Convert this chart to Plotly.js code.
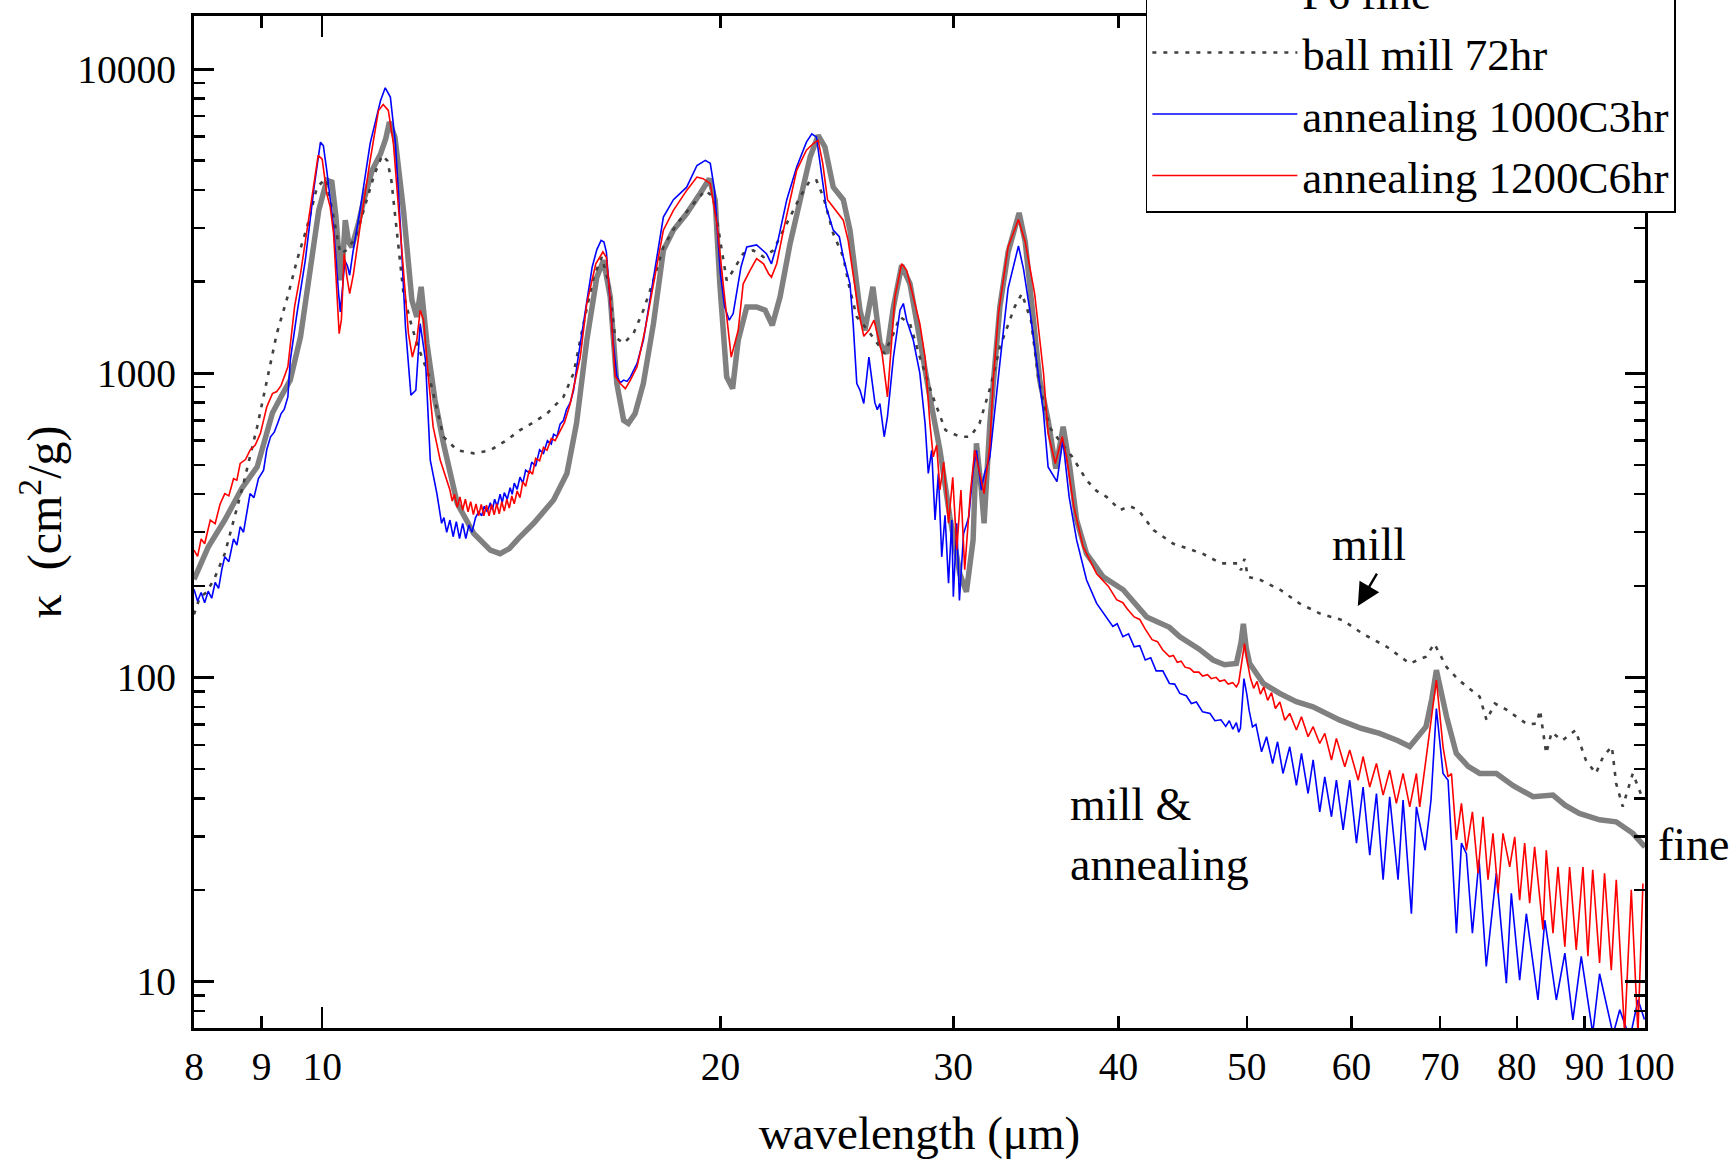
<!DOCTYPE html>
<html>
<head>
<meta charset="utf-8">
<script src="https://cdn.plot.ly/plotly-3.0.1.min.js"></script>
<style>html,body{margin:0;padding:0;background:#fff;}#chart{width:1735px;height:1162px;}</style>
</head>
<body>
<div id="chart"></div>
<script>
// ---- data (wavelength in micron, kappa in cm^2/g) ----
const fineWl = [8.0,8.2,8.44,8.7,8.93,9.05,9.17,9.3,9.46,9.63,9.79,9.94,10.08,10.17,10.24,10.29,10.33,10.38,10.41,10.47,10.53,10.65,10.75,10.91,11.07,11.17,11.24,11.35,11.45,11.52,11.62,11.69,11.79,11.88,12.0,12.17,12.35,12.65,13.02,13.4,13.63,13.85,14.07,14.45,14.96,15.31,15.57,15.85,16.13,16.32,16.51,16.7,16.9,17.04,17.24,17.49,17.8,18.11,18.43,18.86,19.3,19.62,19.82,19.98,20.22,20.43,20.63,20.94,21.3,21.62,21.89,22.19,22.58,22.97,23.38,23.71,23.99,24.34,24.77,25.06,25.5,25.72,26.08,26.41,26.72,27.03,27.42,27.82,28.3,28.8,29.31,29.82,30.34,30.69,31.05,31.23,31.5,31.65,31.97,32.53,33.0,33.64,34.0,34.28,34.87,35.38,35.86,36.32,36.74,37.18,37.83,38.94,40.32,42.0,43.7,44.5,46.0,47.15,48.1,49.1,49.5,49.7,49.95,50.25,51.45,52.96,54.5,56.1,57.5,58.8,61.0,63.0,65.0,66.4,68.3,69.0,69.55,70.2,70.8,72.0,73.5,75.0,77.2,79.5,82.3,85.2,87.0,89.2,92.4,95.1,97.9,100];
const fineK = [210,268,329,420,492,600,740,830,950,1318,2124,3433,4305,4250,3300,2350,2020,2600,3185,2700,2600,3100,3700,4645,5270,5900,6695,5975,4500,3433,2300,1738,1531,1923,1254,815,588,373,297,262,255,265,286,321,383,468,684,1283,2070,2350,1783,925,700,684,737,925,1455,2535,2954,3350,3893,4360,3700,1968,972,890,1283,1652,1652,1611,1438,1783,2668,3720,5140,6050,5545,4090,3720,2954,1611,1384,1923,1254,1161,1652,2264,1968,1254,836,558,337,219,191,283,588,413,321,684,1652,2500,3365,2700,1875,949,700,486,667,492,329,255,214,194,158,146,136,124,114,110,111,130,150,125,111,95.5,88.5,83.2,80,76,72.3,68,65.4,62,59.2,68.8,85,105.6,88,74.1,56.2,51,48.3,48.3,44,40.5,41,38,35.7,34,33.5,30.7,27.7];

const millWl = [8.0,8.08,8.17,8.28,8.44,8.57,8.72,8.93,9.08,9.24,9.43,9.57,9.74,9.91,10.06,10.2,10.32,10.45,10.6,10.8,10.95,11.1,11.2,11.28,11.32,11.39,11.52,11.65,11.79,12.05,12.35,12.65,13.02,13.4,13.79,14.11,14.45,14.79,15.22,15.49,15.76,16.04,16.27,16.47,16.65,16.9,17.19,17.49,17.8,18.11,18.54,19.08,19.48,19.75,20.0,20.22,20.45,20.81,21.18,21.56,21.93,22.45,22.97,23.38,23.64,23.93,24.34,24.77,25.06,25.36,25.85,26.28,26.6,27.03,27.34,27.82,28.3,28.95,29.59,30.34,30.9,31.4,32.0,32.54,33.38,33.8,34.34,34.8,35.45,36.2,36.9,37.83,38.5,39.17,40.1,40.8,41.4,42.5,44.0,46.3,47.8,49.3,49.5,49.8,50.1,51.2,53.0,54.8,56.8,59.1,61.2,63.8,66.4,68.3,69.3,70.8,72.3,75.0,75.9,77.0,78.7,80.0,81.5,82.8,83.3,84.2,85.0,86.6,88.6,90.2,91.8,93.0,94.4,95.1,96.2,97.9,99.7];
const millK = [161,183,190,209,255,329,434,667,949,1349,1828,2350,3026,4090,4360,3260,2472,2550,2800,3700,4500,5200,5000,4300,3720,3026,1828,1500,1254,972,618,558,545,558,603,650,690,737,836,1000,1455,2070,2410,1968,1315,1254,1349,1611,2018,2600,3100,3607,3990,3795,2668,2018,2178,2472,2535,2410,2535,3100,3795,4305,4305,3795,2880,2410,1875,1531,1384,1254,1161,1349,1531,1455,1130,836,650,618,618,684,900,1222,1652,1828,1494,949,667,588,531,445,410,392,355,365,355,305,275,255,237,237,225,245,214,209,194,175,162,154,139,126,111,117,129,108,98,86.3,72.3,82,78,74,70,70.5,78,56.2,66,62,67,53.5,48.3,55,59.2,44.8,37.6,48.3,39.5];

const a1000Wl = [8.0,8.05,8.1,8.15,8.2,8.25,8.3,8.35,8.4,8.44,8.5,8.57,8.62,8.67,8.72,8.77,8.82,8.88,8.95,9.03,9.08,9.14,9.2,9.26,9.31,9.36,9.42,9.46,9.57,9.71,9.86,9.97,10.02,10.08,10.2,10.29,10.32,10.36,10.4,10.45,10.49,10.55,10.68,10.87,11.07,11.16,11.26,11.36,11.46,11.56,11.67,11.77,11.86,11.97,12.07,12.21,12.31,12.36,12.42,12.49,12.56,12.63,12.7,12.77,12.84,12.91,12.98,13.06,13.13,13.2,13.26,13.33,13.4,13.45,13.5,13.56,13.63,13.68,13.73,13.8,13.87,13.92,13.97,14.04,14.11,14.18,14.25,14.34,14.4,14.5,14.6,14.7,14.8,14.9,14.96,15.05,15.13,15.22,15.3,15.4,15.49,15.6,15.76,16.0,16.13,16.25,16.33,16.4,16.51,16.6,16.7,16.8,16.9,17.0,17.1,17.3,17.49,17.8,18.11,18.43,18.86,19.2,19.48,19.65,19.8,20.0,20.15,20.31,20.45,20.73,20.94,21.3,21.67,21.86,22.11,22.45,22.84,23.23,23.45,23.64,23.84,24.04,24.34,24.6,24.77,25.06,25.2,25.36,25.5,25.67,25.9,26.05,26.17,26.28,26.4,26.6,26.75,27.03,27.34,27.5,27.66,27.98,28.3,28.56,28.72,28.89,29.06,29.23,29.4,29.57,29.75,29.92,30.0,30.18,30.32,30.54,30.82,31.05,31.23,31.5,31.67,31.8,31.97,32.53,33.0,33.6,33.9,34.28,34.56,35.1,35.38,35.93,36.3,36.7,37.18,37.83,38.5,39.17,39.6,39.9,40.3,40.7,41.1,41.5,41.9,42.3,42.7,43.2,43.7,44.1,44.5,45.0,45.4,45.8,46.3,46.9,47.3,47.8,48.2,48.5,48.8,49.1,49.3,49.45,49.75,50.0,50.2,50.5,50.8,51.3,51.75,52.3,52.75,53.25,53.88,54.51,54.99,55.63,56.12,56.77,57.27,57.94,58.44,59.13,59.81,60.52,61.22,61.93,62.66,63.39,64.12,65.06,65.63,66.59,67.17,68.2,68.9,69.55,70.36,70.98,72.02,72.65,73.28,74.05,74.91,75.86,77.2,78.56,79.24,80.4,81.34,83.0,84.0,85.7,86.98,88.2,89.5,91.3,92.4,94.6,95.7,97.4,98.8,99.9];
const a1000K = [195,178,190,176,192,182,205,196,228,249,240,285,272,313,300,345,402,390,450,480,560,618,640,690,737,760,836,1104,1571,2350,4090,5750,5600,4645,3026,1828,1590,1900,2350,2250,2100,2500,3433,5690,7890,8680,8090,5690,3026,1419,847,879,1455,1104,518,402,321,335,300,329,290,325,286,321,286,317,300,335,350,340,365,350,375,355,385,365,400,375,405,385,420,400,435,415,455,435,480,470,510,495,560,545,600,585,630,620,680,700,760,800,879,1100,1455,2236,2550,2735,2700,2500,1695,1250,979,930,949,940,972,1077,1283,2070,3260,3720,4090,4820,5010,4900,3990,2124,1650,1494,1571,2236,2600,2640,2472,2290,2735,3720,4765,5750,6125,5975,4530,3525,2954,2810,2410,1968,1455,925,880,795,1130,949,800,759,795,618,720,1130,1611,1695,1494,1283,1000,684,468,558,329,468,249,341,204,329,184,321,179,297,337,480,558,413,468,492,531,1077,1900,2620,2200,1600,1222,737,492,440,603,392,283,209,175,158,147,150,136,139,126,127,114,116,105,105,95.5,95,88.5,87,82,83,77,76,72,72.5,69,72,67.5,71,66,68,99,88,78,68.7,70,56.9,63.8,52.1,61.4,48.3,59.1,44.1,56.2,41.5,53.5,36.1,47.1,34.8,45.9,31.5,45.9,28.5,43.6,26,41.5,21.6,40.5,21.6,39.5,16.7,37.5,27,39.5,79,48.3,45.9,14.4,28.5,26.3,14.4,25.1,11.2,22.7,9.87,19.5,10.1,16.7,8.69,15.9,8.69,12.4,7.47,12.1,6.76,10.6,6.7,8.07,6.5,8.7,7.5];

const a1200Wl = [8.0,8.05,8.1,8.15,8.23,8.3,8.37,8.44,8.5,8.57,8.62,8.67,8.75,8.82,8.9,8.98,9.08,9.17,9.24,9.31,9.42,9.53,9.63,9.77,9.93,10.0,10.08,10.14,10.2,10.26,10.3,10.34,10.39,10.44,10.49,10.56,10.68,10.87,11.03,11.12,11.22,11.32,11.42,11.52,11.62,11.7,11.79,11.86,11.93,12.03,12.13,12.28,12.42,12.49,12.54,12.59,12.65,12.71,12.77,12.83,12.89,12.95,13.01,13.07,13.13,13.19,13.25,13.31,13.37,13.43,13.49,13.55,13.61,13.67,13.73,13.79,13.85,13.91,13.97,14.04,14.11,14.18,14.25,14.34,14.42,14.5,14.6,14.7,14.79,14.9,15.0,15.13,15.25,15.4,15.67,15.85,16.1,16.3,16.4,16.5,16.65,16.8,16.95,17.1,17.3,17.54,17.8,18.11,18.43,18.86,19.2,19.41,19.65,19.88,20.12,20.31,20.38,20.63,20.81,21.06,21.3,21.56,21.75,21.86,22.06,22.32,22.58,22.84,23.23,23.51,23.71,23.9,24.1,24.34,24.55,24.77,24.98,25.2,25.43,25.67,25.9,26.13,26.35,26.5,26.75,26.9,27.1,27.42,27.66,27.98,28.3,28.56,28.8,28.97,29.14,29.31,29.5,29.75,29.97,30.18,30.4,30.6,30.9,31.14,31.4,31.65,31.97,32.16,32.45,33.0,33.6,34.0,34.56,35.1,35.38,35.83,36.26,36.53,37.0,37.6,38.5,39.3,39.86,40.3,40.6,41.1,41.5,41.9,42.4,42.8,43.2,43.7,44.0,44.3,44.6,44.9,45.3,45.6,46.0,46.3,46.7,47.0,47.4,47.7,48.1,48.4,48.8,49.1,49.3,49.5,49.8,50.0,50.3,50.6,50.9,51.2,51.5,51.85,52.2,52.55,52.96,53.42,53.88,54.51,54.99,55.63,56.12,56.77,57.27,57.94,58.44,59.3,59.81,60.7,61.22,61.93,62.66,63.39,64.12,64.87,65.63,66.4,67.17,67.56,68.16,68.74,69.55,70.36,70.98,71.4,72.02,72.65,73.28,74.05,74.78,75.43,76.09,76.75,77.43,78.1,79.02,79.71,80.4,81.1,81.81,82.52,83.73,84.21,85.2,85.94,86.98,87.7,88.72,89.76,90.54,91.3,92.4,93.2,94.3,95.12,96.51,97.64,98.78,99.64];
const a1200K = [262,250,285,275,329,320,370,402,395,450,445,505,520,558,580,634,774,857,870,912,1050,1652,2124,3185,5200,5060,3893,3525,2880,1828,1349,1500,2472,2070,1828,2124,3026,5010,7310,7650,7310,5690,3433,2124,1349,1130,1283,1611,1494,972,667,518,445,413,380,400,362,392,355,385,350,378,343,372,340,370,340,368,340,370,342,372,345,378,352,385,360,395,372,410,390,440,425,480,465,525,515,570,558,610,600,650,690,795,1130,1695,2290,2505,2400,1800,979,925,890,949,1050,1384,1968,2954,3433,3990,4415,4360,4200,3100,1875,1254,1130,1384,1968,2178,2380,2290,2124,2070,2290,2954,3720,4645,5410,5690,5825,4900,3720,3525,3350,3185,2735,2070,1611,1322,1384,1494,1283,1161,836,1190,1783,2290,2180,1783,1455,1130,684,531,580,413,510,321,455,263,413,226,402,558,468,402,580,949,1571,2600,3200,2700,1828,1000,635,505,618,531,364,269,219,199,180,176,168,158,155,144,133,131,123,117,118,112,113,108,107,104,104,101,102,99,100,97,98,95,96,93,96,108,129,115,100,92,97,88,93,84,89,79,83,72.3,76.1,67.1,74.2,63.8,68.8,60.6,65.4,53.5,63,50.8,57.7,45.9,54.9,43.6,52.1,41,49.5,38.5,48.3,37.5,48.3,37.5,50.8,65.4,97.9,59.1,47.1,48.3,29.2,38.5,27,36.1,22.7,34.8,21.6,30.7,19.5,30.7,23.8,29.9,18.5,28.5,18.1,27.7,14.8,27,14.4,23.8,13,23.8,12.7,23.8,12.1,23.3,11.5,22.7,10.9,21.6,6.76,20,6.76,21];

const seriesNames = ['F6 fine', 'ball mill 72hr', 'annealing 1000C3hr', 'annealing 1200C6hr'];
const xTickVals = [8, 9, 10, 20, 30, 40, 50, 60, 70, 80, 90, 100];
const xTickText = ['8', '9', '10', '20', '30', '40', '50', '60', '70', '80', '90', '100'];
const yTickVals = [10, 100, 1000, 10000];
const yTickText = ['10', '100', '1000', '10000'];
const yMinorVals = [8, 9, 20, 30, 40, 50, 60, 70, 80, 90, 200, 300, 400, 500, 600, 700, 800, 900, 2000, 3000, 4000, 5000, 6000, 7000, 8000, 9000];
const xLongTicks = [10];

// ---- styles ----
const FONT = 'Liberation Serif, "Times New Roman", Times, serif';

const traces = [
  {x: fineWl, y: fineK, name: seriesNames[0], mode: 'lines', line: {color: '#808080', width: 5.5}, hoverinfo: 'skip'},
  {x: millWl, y: millK, name: seriesNames[1], mode: 'lines', line: {color: '#404040', width: 2.6, dash: '4px,7px'}, hoverinfo: 'skip'},
  {x: a1000Wl, y: a1000K, name: seriesNames[2], mode: 'lines', line: {color: '#0000ff', width: 1.6}, hoverinfo: 'skip'},
  {x: a1200Wl, y: a1200K, name: seriesNames[3], mode: 'lines', line: {color: '#ff0000', width: 1.6}, hoverinfo: 'skip', xaxis: 'x2'}
];

const xRange = [Math.log10(8), 2];
const yRange = [0.847, 4.1745];

const layout = {
  width: 1735, height: 1162,
  margin: {l: 194, r: 89.5, t: 15.5, b: 134, autoexpand: false},
  paper_bgcolor: '#ffffff', plot_bgcolor: '#ffffff',
  font: {family: FONT, color: '#000'},
  showlegend: true,
  legend: {
    x: 0.656, y: 1.0615, xanchor: 'left', yanchor: 'top',
    bgcolor: '#ffffff', bordercolor: '#000000', borderwidth: 1.5,
    font: {family: FONT, size: 45, color: '#000'},
    itemwidth: 145, traceorder: 'normal'
  },
  xaxis: {
    type: 'log', range: xRange, tickmode: 'array', tickvals: xTickVals, ticktext: xTickText,
    ticks: 'inside', ticklen: 12, tickwidth: 2.5, tickcolor: '#000',
    showline: true, linewidth: 3, linecolor: '#000', mirror: 'ticks',
    showgrid: false, zeroline: false, ticklabelstandoff: 2,
    tickfont: {family: FONT, size: 39.5, color: '#000'},
    title: {text: 'wavelength (μm)', font: {family: FONT, size: 47, color: '#000'}, standoff: 28}
  },
  xaxis2: {
    type: 'log', range: xRange, overlaying: 'x', anchor: 'y', side: 'bottom',
    tickmode: 'array', tickvals: xLongTicks, showticklabels: false,
    ticks: 'inside', ticklen: 21, tickwidth: 2.5, tickcolor: '#000',
    showline: false, mirror: 'ticks', showgrid: false, zeroline: false
  },
  yaxis: {
    type: 'log', range: yRange, tickmode: 'array', tickvals: yTickVals, ticktext: yTickText,
    ticks: 'inside', ticklen: 20, tickwidth: 3, tickcolor: '#000',
    minor: {tickmode: 'array', tickvals: yMinorVals, ticks: 'inside', ticklen: 11, tickwidth: 2.5, tickcolor: '#000', showgrid: false},
    showline: true, linewidth: 3, linecolor: '#000', mirror: 'ticks',
    showgrid: false, zeroline: false, ticklabelstandoff: 7,
    tickfont: {family: FONT, size: 39.5, color: '#000'},
    title: {text: 'κ  (cm<sup>2</sup>/g)', font: {family: FONT, size: 48, color: '#000'}, standoff: 1}
  },
  annotations: [
    {xref: 'paper', yref: 'paper', x: 0.8095, y: 0.478, xanchor: 'center', yanchor: 'middle', showarrow: false,
     text: 'mill', font: {family: FONT, size: 46, color: '#000'}},
    {xref: 'x', yref: 'y', x: Math.log10(60.66), y: Math.log10(171.5), ax: 20, ay: -34, text: '', showarrow: true,
     arrowhead: 2, arrowsize: 1.9, arrowwidth: 2.4, arrowcolor: '#000'},
    {xref: 'paper', yref: 'paper', x: 0.602, y: 0.1916, xanchor: 'left', yanchor: 'middle', align: 'left', showarrow: false,
     text: 'mill &amp;<br>annealing', font: {family: FONT, size: 46, color: '#000'}},
    {xref: 'paper', yref: 'paper', x: 1.0075, y: 0.1817, xanchor: 'left', yanchor: 'middle', showarrow: false,
     text: 'fine', font: {family: FONT, size: 46, color: '#000'}}
  ]
};

Plotly.newPlot('chart', traces, layout, {displayModeBar: false, staticPlot: true});
</script>
</body>
</html>
